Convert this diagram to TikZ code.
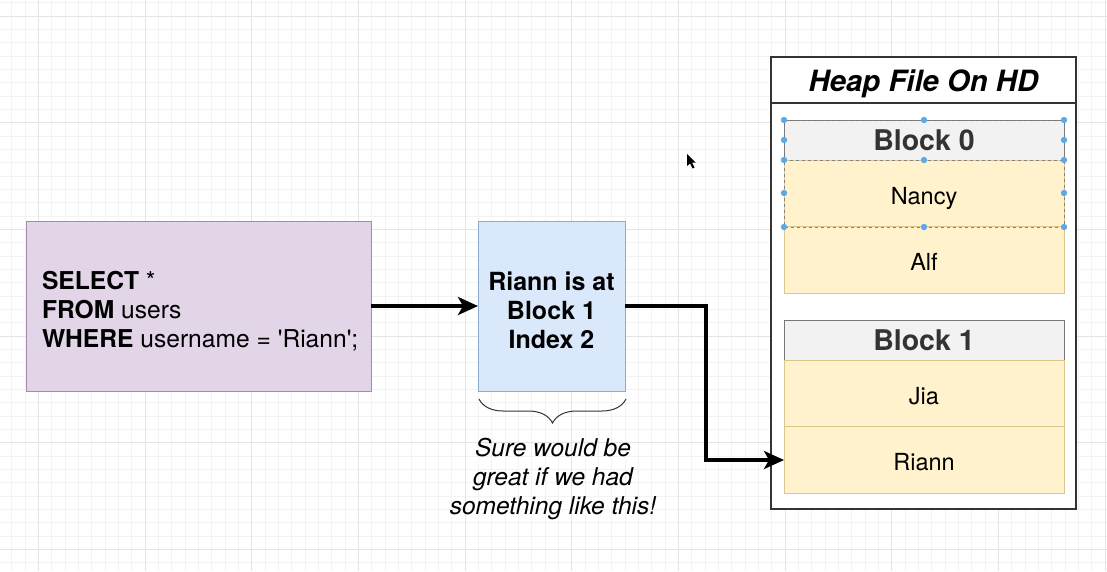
\documentclass[tikz,border=0pt]{standalone}
\usepackage{fontspec}
\setmainfont{TeX Gyre Heros}
\usetikzlibrary{arrows.meta,decorations.pathreplacing}
\definecolor{gridminor}{HTML}{F3F3F3}
\definecolor{gridmajor}{HTML}{E4E4E4}
\definecolor{sqlfill}{HTML}{E1D5E7}
\definecolor{sqlline}{HTML}{A08DB0}
\definecolor{idxfill}{HTML}{DAE8FC}
\definecolor{idxline}{HTML}{8FAAD0}
\definecolor{hdrfill}{HTML}{F2F2F2}
\definecolor{hdrline}{HTML}{777777}
\definecolor{hdrtext}{HTML}{333333}
\definecolor{rowfill}{HTML}{FFF2CC}
\definecolor{rowline}{HTML}{DCC68A}
\definecolor{handle}{HTML}{5FA8E8}
\definecolor{heapline}{HTML}{333333}
\tikzset{
  box/.style={draw, inner sep=0pt, outer sep=0pt, line width=1pt},
  sqlbox/.style={box, fill=sqlfill, draw=sqlline, minimum width=345pt, minimum height=170pt},
  idxbox/.style={box, fill=idxfill, draw=idxline, minimum width=147pt, minimum height=170pt},
  heapbox/.style={box, fill=white, draw=heapline, line width=1.2pt, minimum width=305pt},
  hdrbox/.style={box, fill=hdrfill, draw=hdrline, minimum width=280pt, minimum height=40pt, font=\fontsize{28.5}{30}\selectfont\bfseries, text=hdrtext, text height=21pt, text depth=0pt},
  rowbox/.style={box, fill=rowfill, draw=rowline, minimum width=280pt, minimum height=66.5pt, font=\fontsize{23.5}{26}\selectfont, text height=21pt, text depth=0pt},
  selbox/.style={draw=gray, dashed, line width=0.6pt},
  conn/.style={line width=3.4pt, -{Stealth[length=20pt,width=18pt,inset=5pt]}},
  txt/.style={inner sep=0pt, outer sep=0pt},
}
\begin{document}
\begin{tikzpicture}[x=1pt,y=-1pt]
\useasboundingbox (0,0) rectangle (1107,571);
\fill[white] (0,0) rectangle (1107,571);
% grid
\foreach \i in {0,...,83} {\draw[gridminor, line width=0.8pt] ({11.667+\i*13.333},0) -- ({11.667+\i*13.333},571);}
\foreach \i in {0,...,43} {\draw[gridminor, line width=0.8pt] (0,{2.667+\i*13.333}) -- (1107,{2.667+\i*13.333});}
\foreach \i in {0,...,10} {\draw[gridmajor, line width=1pt] ({38.333+\i*106.667},0) -- ({38.333+\i*106.667},571);}
\foreach \i in {0,...,5} {\draw[gridmajor, line width=1pt] (0,{16+\i*106.667}) -- (1107,{16+\i*106.667});}

% SQL box
\node[sqlbox] (sql) at (198.5,306) {};
\node[txt, anchor=west, align=left, font=\fontsize{24.6}{29}\selectfont] (sqltext) at (42,311)
  {\textbf{SELECT} *\\\textbf{FROM} users\\\textbf{WHERE} username = \textquotesingle Riann\textquotesingle;};

% index box
\node[idxbox] (idx) at (551.5,306) {};
\node[txt, align=center, font=\fontsize{25}{29}\selectfont\bfseries] (idxtext) at (551.5,310) {Riann is at\\Block 1\\Index 2};

% brace and note
\coordinate (bl) at (479,399);
\coordinate (br) at (626,399);
\draw[decorate, decoration={brace, mirror, amplitude=24pt}, line width=1pt, hdrtext] (bl) -- (br);
\node[txt, align=center, font=\fontsize{24.5}{29}\selectfont\itshape] (note) at (553,479)
  {Sure would be\\great if we had\\something like this!};

% heap file
\node[heapbox, minimum height=46pt, font=\fontsize{29.3}{32}\selectfont\bfseries\itshape, text height=23pt, text depth=0pt] (heaptitle) at (923.5,80) {Heap File On HD};
\node[heapbox, minimum height=406pt] (heapbody) at (923.5,306) {};

\node[hdrbox] (b0) at (924,140) {Block 0};
\node[rowbox, minimum height=67pt] (nancy) at (924,193.5) {Nancy};
\node[rowbox] (alf) at (924,260) {Alf};
\node[hdrbox] (b1) at (924,340) {Block 1};
\node[rowbox, minimum height=67pt] (jia) at (924,393.5) {Jia};
\node[rowbox] (riann) at (924,460) {Riann};

% selection outline and handles
\draw[selbox] (b0.north west) rectangle (nancy.south east);
\draw[selbox] (b0.south west) -- (b0.south east);
\foreach \p in {(784,120),(924,120),(1064,120),(784,140),(1064,140),(784,160),(924,160),(1064,160),(784,193),(1064,193),(784,227),(924,227),(1064,227)}
  {\fill[handle] \p circle (3.2pt);}

% connectors
\draw[conn] (sql.east) -- (idx.west);
\draw[conn] (idx.east) -- ++(81,0) |- (riann.west);

% mouse cursor
\fill[black] (687,154) -- (687,166) -- (690,163.5) -- (692.5,168.5) -- (694.5,167.5) -- (692,162.5) -- (695.5,162.5) -- cycle;
\end{tikzpicture}
\end{document}
